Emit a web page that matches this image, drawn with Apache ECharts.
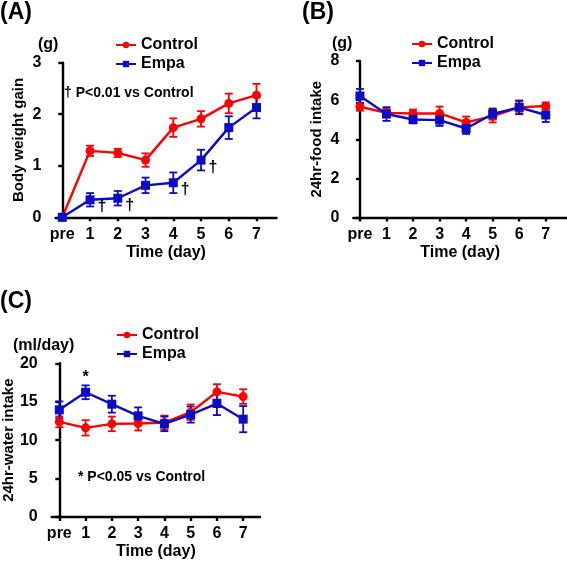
<!DOCTYPE html>
<html>
<head>
<meta charset="utf-8">
<script src="https://cdn.jsdelivr.net/npm/echarts@6/dist/echarts.min.js"></script>
<style>
  html, body { margin: 0; padding: 0; background: #fff; }
  #main { width: 567px; height: 561px; }
</style>
</head>
<body>
<div id="main"></div>
<script>
// days on the x axis, 0 = pre
var days = [0, 1, 2, 3, 4, 5, 6, 7];
var dayLabels = ['pre', '1', '2', '3', '4', '5', '6', '7'];

// (A) body weight gain (g), mean and sem
var bwControl = [0, 1.29, 1.25, 1.11, 1.74, 1.91, 2.21, 2.37];
var bwControlErr = [0, 0.10, 0.08, 0.13, 0.18, 0.15, 0.19, 0.22];
var bwEmpa = [0, 0.34, 0.37, 0.62, 0.67, 1.11, 1.74, 2.13];
var bwEmpaErr = [0, 0.13, 0.14, 0.15, 0.20, 0.20, 0.22, 0.21];
var bwDagger = [1, 2, 4, 5];

// (B) 24hr food intake (g)
var foodControl = [5.66, 5.35, 5.32, 5.32, 4.86, 5.18, 5.63, 5.70];
var foodControlErr = [0.20, 0.20, 0.20, 0.35, 0.30, 0.32, 0.30, 0.18];
var foodEmpa = [6.21, 5.29, 5.01, 4.98, 4.55, 5.29, 5.63, 5.24];
var foodEmpaErr = [0.36, 0.35, 0.20, 0.30, 0.28, 0.28, 0.35, 0.36];

// (C) 24hr water intake (ml/day)
var waterControl = [12.38, 11.6, 12.12, 12.16, 12.29, 13.64, 16.28, 15.67];
var waterControlErr = [0.7, 1.0, 0.95, 0.9, 0.9, 1.0, 1.0, 0.95];
var waterEmpa = [13.94, 16.23, 14.68, 13.16, 12.12, 13.33, 14.76, 12.73];
var waterEmpaErr = [1.1, 0.9, 1.1, 1.1, 0.95, 1.05, 1.5, 1.7];
var waterStar = [1];

var red = '#ff0000';
var blue = '#0c0cc8';
var ff = '"Liberation Sans", Arial, sans-serif';

var chartDom = document.getElementById('main');
var myChart = echarts.init(chartDom);

function errData(mean, err) {
  var out = [];
  for (var i = 0; i < days.length; i++) {
    out.push([days[i], mean[i] - err[i], mean[i] + err[i]]);
  }
  return out;
}

function pts(mean) {
  var out = [];
  for (var i = 0; i < days.length; i++) out.push([days[i], mean[i]]);
  return out;
}

function renderErr(params, api) {
  var x = api.value(0);
  var lo = api.coord([x, api.value(1)]);
  var hi = api.coord([x, api.value(2)]);
  var w = 4;
  var st = { stroke: api.visual('color'), lineWidth: 1.8 };
  return {
    type: 'group',
    children: [
      { type: 'line', shape: { x1: hi[0], y1: hi[1], x2: lo[0], y2: lo[1] }, style: st },
      { type: 'line', shape: { x1: hi[0] - w, y1: hi[1], x2: hi[0] + w, y2: hi[1] }, style: st },
      { type: 'line', shape: { x1: lo[0] - w, y1: lo[1], x2: lo[0] + w, y2: lo[1] }, style: st }
    ]
  };
}

function xAx(idx, min, max) {
  return {
    type: 'value', gridIndex: idx, min: min, max: max,
    name: 'Time (day)', nameLocation: 'middle', nameGap: 27,
    nameTextStyle: { fontFamily: ff, fontWeight: 'bold', fontSize: 16, color: '#000' },
    splitLine: { show: false },
    axisLine: { show: true, onZero: false, lineStyle: { color: '#000', width: 2.4 } },
    axisTick: { show: true, length: 4, customValues: days, lineStyle: { color: '#000', width: 2.4 } },
    axisLabel: {
      customValues: days, margin: 9,
      fontFamily: ff, fontWeight: 'bold', fontSize: 16, color: '#000',
      formatter: function (v) { return dayLabels[v]; }
    }
  };
}

function yAx(idx, max, interval, name, gap) {
  return {
    type: 'value', gridIndex: idx, min: 0, max: max, interval: interval, offset: 8,
    name: name, nameLocation: 'middle', nameGap: gap,
    nameTextStyle: { fontFamily: ff, fontWeight: 'bold', fontSize: 15, color: '#000' },
    splitLine: { show: false },
    axisLine: { show: true, lineStyle: { color: '#000', width: 2.4 } },
    axisTick: { show: true, length: 4, lineStyle: { color: '#000', width: 2.4 } },
    axisLabel: { margin: 6, fontFamily: ff, fontWeight: 'bold', fontSize: 16, color: '#000' }
  };
}

function lineSeries(name, idx, mean, color, symbol, marks, markText, offset) {
  var data = pts(mean).map(function (p, i) {
    if (marks && marks.indexOf(days[i]) >= 0) {
      return {
        value: p,
        label: {
          show: true, position: 'inside', offset: offset, formatter: markText,
          fontFamily: ff, fontWeight: 'bold', fontSize: 16, color: '#000'
        }
      };
    }
    return p;
  });
  return {
    name: name, type: 'line', xAxisIndex: idx, yAxisIndex: idx,
    data: data, symbol: symbol, symbolSize: 9, showAllSymbol: true,
    lineStyle: { color: color, width: 2.4 },
    itemStyle: { color: color },
    label: { show: false },
    emphasis: { disabled: true }, z: 3
  };
}

function errSeries(name, idx, mean, err, color) {
  return {
    name: name, type: 'custom', xAxisIndex: idx, yAxisIndex: idx,
    renderItem: renderErr, data: errData(mean, err),
    itemStyle: { color: color }, z: 2, silent: true
  };
}

function legendAt(left, top) {
  return {
    orient: 'vertical', left: left, top: top, itemGap: 3,
    itemWidth: 20, itemHeight: 8,
    data: ['Control', 'Empa'],
    textStyle: { fontFamily: ff, fontWeight: 'bold', fontSize: 16, color: '#000' },
    selectedMode: false
  };
}

function txt(x, y, s, size) {
  return {
    type: 'text', x: x, y: y,
    style: { text: s, fill: '#000', font: 'bold ' + size + 'px ' + ff, verticalAlign: 'middle' }
  };
}

option = {
  animation: false,
  backgroundColor: '#fff',
  grid: [
    { left: 55.5, top: 62.7, width: 221, height: 154.6 },
    { left: 353.3, top: 61, width: 213.7, height: 156.5 },
    { left: 51.7, top: 363.3, width: 208.3, height: 154 }
  ],
  legend: [legendAt(110, 32), legendAt(406, 31), legendAt(111, 322)],
  xAxis: [xAx(0, -0.245, 7.72), xAx(1, -0.25, 7.8), xAx(2, -0.29, 7.64)],
  yAxis: [
    yAx(0, 3, 1, 'Body weight gain', 21),
    yAx(1, 8, 2, '24hr-food intake', 21),
    yAx(2, 20, 5, '24hr-water intake', 24)
  ],
  graphic: [
    txt(0, 13, '(A)', 23),
    txt(302, 13, '(B)', 23),
    txt(0, 302, '(C)', 23),
    txt(38, 45, '(g)', 16),
    txt(332, 44, '(g)', 16),
    txt(13, 346, '(ml/day)', 16),
    txt(64, 93, '\u2020 P<0.01 vs Control', 14),
    txt(78, 477, '* P<0.05 vs Control', 14)
  ],
  series: [
    // line series first so the legend takes their line + marker icons
    lineSeries('Control', 0, bwControl, red, 'circle'),
    lineSeries('Empa', 0, bwEmpa, blue, 'rect', bwDagger, '\u2020', [12, 7]),
    lineSeries('Control', 1, foodControl, red, 'circle'),
    lineSeries('Empa', 1, foodEmpa, blue, 'rect'),
    lineSeries('Control', 2, waterControl, red, 'circle'),
    lineSeries('Empa', 2, waterEmpa, blue, 'rect', waterStar, '*', [0, -15]),

    errSeries('Control', 0, bwControl, bwControlErr, red),
    errSeries('Empa', 0, bwEmpa, bwEmpaErr, blue),
    errSeries('Control', 1, foodControl, foodControlErr, red),
    errSeries('Empa', 1, foodEmpa, foodEmpaErr, blue),
    errSeries('Control', 2, waterControl, waterControlErr, red),
    errSeries('Empa', 2, waterEmpa, waterEmpaErr, blue)
  ]
};

option && myChart.setOption(option);
</script>
</body>
</html>
